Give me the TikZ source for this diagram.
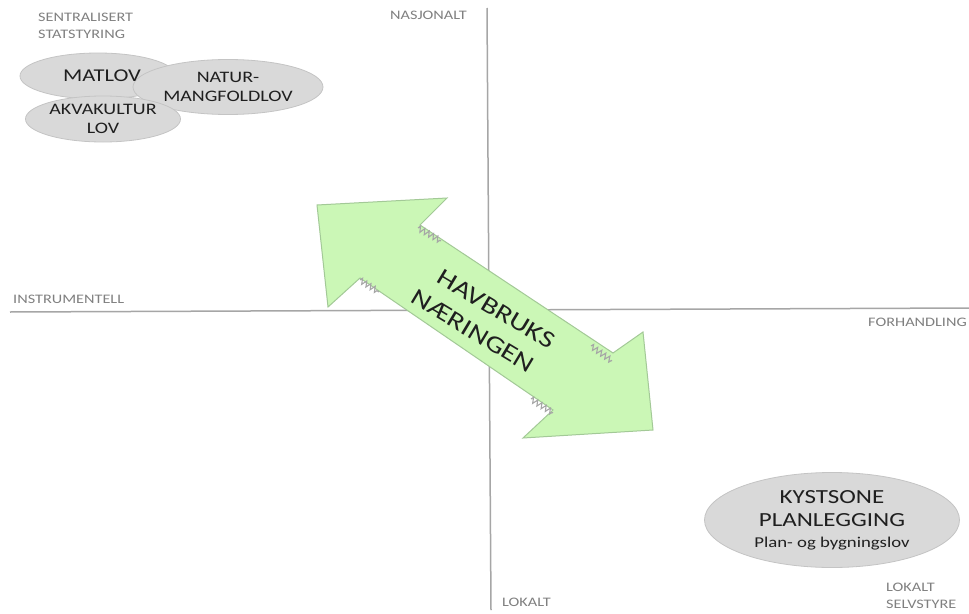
\documentclass[tikz,border=0pt]{standalone}
\usepackage{fontspec}
\setmainfont{Carlito}[FakeStretch=1.25]
\usetikzlibrary{shapes.geometric,decorations.pathmorphing}
\definecolor{axisgray}{HTML}{A6A6A6}
\definecolor{labelgray}{HTML}{808080}
\definecolor{ellfill}{HTML}{D9D9D9}
\definecolor{elldraw}{HTML}{C4C4C4}
\definecolor{arrowfill}{HTML}{CBF7B6}
\definecolor{arrowdraw}{HTML}{A3C997}
\definecolor{txt}{HTML}{1F1F1F}
\begin{document}
\begin{tikzpicture}[x=1pt,y=-1pt,
  axislabel/.style={text=labelgray, font=\fontsize{13}{17}\selectfont, inner sep=0pt, align=left},
  law/.style={ellipse, fill=ellfill, draw=elldraw, line width=0.8pt, text=txt, align=center, inner sep=0pt},
  lawtext/.style={font=\fontsize{16}{18.5}\selectfont},
  squig/.style={draw=gray!70, line width=1.1pt, decorate, decoration={zigzag, segment length=5pt, amplitude=2.8pt}},
  bigtext/.style={text=txt, font=\fontsize{24}{26}\selectfont, inner sep=0pt, rotate=-31}]
\useasboundingbox (0,0) rectangle (969,613);
\fill[white] (0,0) rectangle (969,613);
% axes
\coordinate (vt) at (487,8);
\coordinate (vb) at (491,610);
\coordinate (hl) at (10,312);
\coordinate (hr) at (969,308);
\draw[axisgray, line width=1.5pt] (vt) -- (vb);
\draw[axisgray, line width=1.5pt] (hl) -- (hr);
% axis labels
\node[axislabel, anchor=west] (nasj) at (390,15) {NASJONALT};
\node[axislabel, anchor=west] (instr) at (13,299) {INSTRUMENTELL};
\node[axislabel, anchor=east] (forh) at (967,322) {FORHANDLING};
\node[axislabel, anchor=west] (lok) at (502,602) {LOKALT};
\node[axislabel, anchor=north west] (sent) at (38,13) {SENTRALISERT\\STATSTYRING};
\node[axislabel, anchor=north west] (lokself) at (886,583) {LOKALT\\SELVSTYRE};
% law ellipses
\node[law, minimum width=156pt, minimum height=46pt] (matlov) at (98,76) {};
\node[law, lawtext, minimum width=190pt, minimum height=55pt] (natur) at (228,87) {NATUR-\\MANGFOLDLOV};
\node[law, lawtext, minimum width=155pt, minimum height=46pt] (akva) at (103,119) {AKVAKULTUR\\LOV};
\node[text=txt, font=\fontsize{18}{20}\selectfont, inner sep=0pt] (matlovtext) at (102,76) {MATLOV};
\node[law, font=\fontsize{20}{23}\selectfont, minimum width=255pt, minimum height=95pt] (kyst) at (832,520)
  {KYSTSONE\\PLANLEGGING\\[-2pt]\fontsize{15}{20}\selectfont Plan- og bygningslov};
% double arrow
\coordinate (tl) at (317,205);
\coordinate (tlr) at (447,198);
\coordinate (n1) at (420,225);
\coordinate (n2) at (613,353);
\coordinate (brt) at (643,332);
\coordinate (br) at (653,430);
\coordinate (brl) at (523,438);
\coordinate (n3) at (553,410);
\coordinate (n4) at (360,278);
\coordinate (tlb) at (328,307);
\filldraw[fill=arrowfill, draw=arrowdraw, line width=1pt, line join=miter]
  (tl) -- (tlr) -- (n1) -- (n2) -- (brt) -- (br) -- (brl) -- (n3) -- (n4) -- (tlb) -- cycle;
% break marks
\coordinate (z1a) at (418,228); \coordinate (z1b) at (441,241);
\coordinate (z2a) at (360,280); \coordinate (z2b) at (379,292);
\coordinate (z3a) at (591,346); \coordinate (z3b) at (612,361);
\coordinate (z4a) at (531,399); \coordinate (z4b) at (553,413);
\draw[squig] (z1a) -- (z1b);
\draw[squig] (z2a) -- (z2b);
\draw[squig] (z3a) -- (z3b);
\draw[squig] (z4a) -- (z4b);
% arrow text
\node[bigtext] (hav) at (496,309) {HAVBRUKS};
\node[bigtext] (naer) at (473,331) {NÆRINGEN};
\end{tikzpicture}
\end{document}
